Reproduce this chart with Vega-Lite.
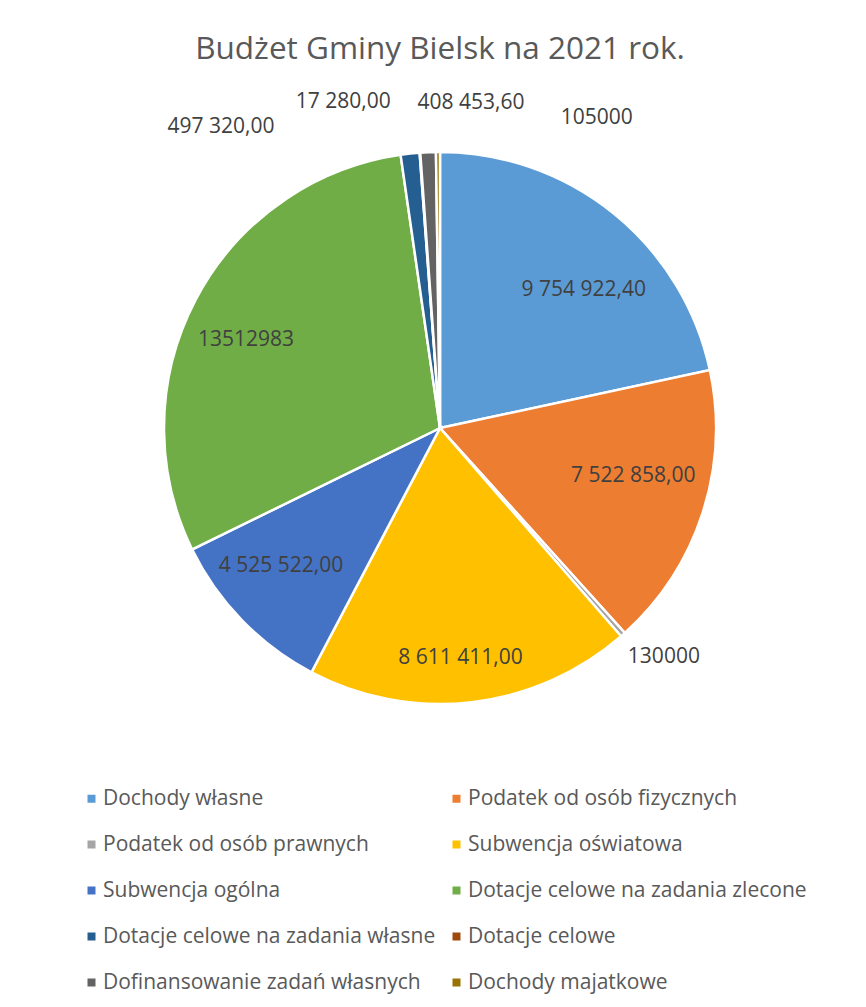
{
  "$schema": "https://vega.github.io/schema/vega-lite/v6.json",
  "autosize": {"type": "none"},
  "padding": {"top": 148, "left": 0, "right": 0, "bottom": 300},
  "width": 880,
  "height": 560,
  "background": "white",
  "title": {
    "text": "Budżet Gminy Bielsk na 2021 rok.",
    "frame": "group",
    "anchor": "middle",
    "baseline": "alphabetic",
    "offset": 0,
    "font": "Open Sans",
    "fontSize": 31.5,
    "fontWeight": "normal",
    "color": "#595959"
  },
  "config": {
    "view": {"stroke": null},
    "legend": {
      "labelFont": "Open Sans",
      "labelFontSize": 21,
      "labelColor": "#595959",
      "labelLimit": 500,
      "symbolType": "square",
      "symbolSize": 64,
      "symbolStrokeWidth": 0
    }
  },
  "data": {
    "values": [
      {"i": 1, "cat": "Dochody własne", "value": 9754922.4, "label": "9 754 922,40"},
      {"i": 2, "cat": "Podatek od osób fizycznych", "value": 7522858, "label": "7 522 858,00"},
      {"i": 3, "cat": "Podatek od osób prawnych", "value": 130000, "label": "130000"},
      {"i": 4, "cat": "Subwencja oświatowa", "value": 8611411, "label": "8 611 411,00"},
      {"i": 5, "cat": "Subwencja ogólna", "value": 4525522, "label": "4 525 522,00"},
      {"i": 6, "cat": "Dotacje celowe na zadania zlecone", "value": 13512983, "label": "13512983"},
      {"i": 7, "cat": "Dotacje celowe na zadania własne", "value": 497320, "label": "497 320,00"},
      {"i": 8, "cat": "Dotacje celowe", "value": 17280, "label": "17 280,00"},
      {"i": 9, "cat": "Dofinansowanie zadań własnych", "value": 408453.6, "label": "408 453,60"},
      {"i": 10, "cat": "Dochody majatkowe", "value": 105000, "label": "105000"}
    ]
  },
  "encoding": {
    "theta": {"field": "value", "type": "quantitative", "stack": true},
    "order": {"field": "i", "type": "quantitative"}
  },
  "layer": [
    {
      "mark": {"type": "arc", "outerRadius": 276, "stroke": "white", "strokeWidth": 2.5},
      "encoding": {
        "color": {
          "field": "cat",
          "type": "nominal",
          "scale": {
            "domain": ["Dochody własne", "Podatek od osób fizycznych", "Podatek od osób prawnych", "Subwencja oświatowa", "Subwencja ogólna", "Dotacje celowe na zadania zlecone", "Dotacje celowe na zadania własne", "Dotacje celowe", "Dofinansowanie zadań własnych", "Dochody majatkowe"],
            "range": ["#5B9BD5", "#ED7D31", "#A5A5A5", "#FFC000", "#4472C4", "#70AD47", "#255E91", "#9E480E", "#636363", "#997300"]
          },
          "legend": {
            "title": null,
            "orient": "none",
            "direction": "horizontal",
            "legendX": 81,
            "legendY": 640,
            "columns": 2,
            "columnPadding": 10,
            "rowPadding": 24,
            "labelOffset": 1
          }
        }
      }
    },
    {"mark": {"type": "text", "radius": 212, "dx": 10.5, "dy": 26.5, "font": "Open Sans", "fontSize": 21, "color": "#404040"},
     "encoding": {"text": {"condition": {"test": "datum.i == 1", "field": "label"}, "value": ""}}},
    {"mark": {"type": "text", "radius": 212, "dx": -8.5, "dy": -17, "font": "Open Sans", "fontSize": 21, "color": "#404040"},
     "encoding": {"text": {"condition": {"test": "datum.i == 2", "field": "label"}, "value": ""}}},
    {"mark": {"type": "text", "radius": 300, "dx": 25, "dy": 4, "font": "Open Sans", "fontSize": 21, "color": "#404040"},
     "encoding": {"text": {"condition": {"test": "datum.i == 3", "field": "label"}, "value": ""}}},
    {"mark": {"type": "text", "radius": 212, "dx": -4, "dy": 19, "font": "Open Sans", "fontSize": 21, "color": "#404040"},
     "encoding": {"text": {"condition": {"test": "datum.i == 4", "field": "label"}, "value": ""}}},
    {"mark": {"type": "text", "radius": 212, "dx": -7, "dy": -10, "font": "Open Sans", "fontSize": 21, "color": "#404040"},
     "encoding": {"text": {"condition": {"test": "datum.i == 5", "field": "label"}, "value": ""}}},
    {"mark": {"type": "text", "radius": 212, "dx": -6.5, "dy": 11, "font": "Open Sans", "fontSize": 21, "color": "#404040"},
     "encoding": {"text": {"condition": {"test": "datum.i == 6", "field": "label"}, "value": ""}}},
    {"mark": {"type": "text", "radius": 300, "dx": -186.5, "dy": -3, "font": "Open Sans", "fontSize": 21, "color": "#404040"},
     "encoding": {"text": {"condition": {"test": "datum.i == 7", "field": "label"}, "value": ""}}},
    {"mark": {"type": "text", "radius": 300, "dx": -75, "dy": -27, "font": "Open Sans", "fontSize": 21, "color": "#404040"},
     "encoding": {"text": {"condition": {"test": "datum.i == 8", "field": "label"}, "value": ""}}},
    {"mark": {"type": "text", "radius": 300, "dx": 44, "dy": -25, "font": "Open Sans", "fontSize": 21, "color": "#404040"},
     "encoding": {"text": {"condition": {"test": "datum.i == 9", "field": "label"}, "value": ""}}},
    {"mark": {"type": "text", "radius": 300, "dx": 159, "dy": -10, "font": "Open Sans", "fontSize": 21, "color": "#404040"},
     "encoding": {"text": {"condition": {"test": "datum.i == 10", "field": "label"}, "value": ""}}}
  ]
}
